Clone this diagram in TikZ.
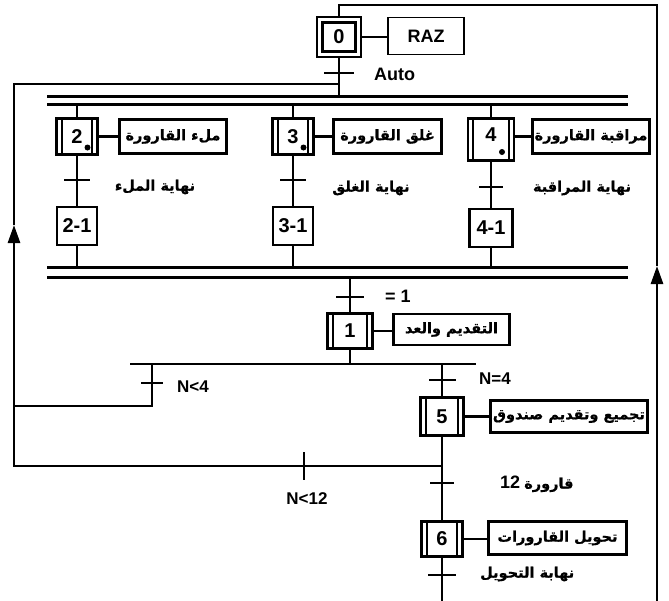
\documentclass[tikz,border=0pt]{standalone}
\usepackage{fontspec}
\setmainfont{Liberation Sans}
\newfontfamily\arabicfont[Script=Arabic, BoldFeatures={FakeBold=0.6}]{DejaVu Sans}
\TeXXeTstate=1
\usetikzlibrary{arrows.meta}
\newcommand\artxt[1]{{\arabicfont\bfseries\beginR #1\endR}}
\begin{document}
\begin{tikzpicture}[x=1pt,y=-1pt,
  conn/.style={line width=2.7pt},
  bar/.style={line width=3pt},
  lat/.style={font=\bfseries\fontsize{18}{18}\selectfont, inner sep=0pt},
  arl/.style={font=\fontsize{14.5}{14.5}\selectfont, inner sep=0pt},
  initstep/.style={draw, line width=2.7pt, minimum width=44pt, minimum height=40pt, inner sep=0pt,
    font=\bfseries\fontsize{20}{20}\selectfont,
    path picture={\draw[line width=2.7pt] ([shift={(5.8pt,5.8pt)}]path picture bounding box.south west) rectangle ([shift={(-5.8pt,-5.8pt)}]path picture bounding box.north east);}},
  macrostep/.style={draw, line width=2.7pt, inner sep=0pt,
    font=\bfseries\fontsize{20}{20}\selectfont,
    path picture={\draw[line width=2pt] ([xshift=5.2pt]path picture bounding box.south west) -- ([xshift=5.2pt]path picture bounding box.north west);
      \draw[line width=2pt] ([xshift=-5.2pt]path picture bounding box.south east) -- ([xshift=-5.2pt]path picture bounding box.north east);}},
  plainstep/.style={draw, line width=2.7pt, inner sep=0pt, minimum width=40pt, minimum height=38pt,
    font=\bfseries\fontsize{20}{20}\selectfont},
  actbox/.style={draw, line width=2.7pt, inner sep=0pt, minimum height=34pt, font=\fontsize{14.5}{14.5}\selectfont},
  trans/.style={fill, inner sep=0pt, minimum height=2.8pt},
  vtrans/.style={fill, inner sep=0pt, minimum width=2.8pt, minimum height=28pt},
  tipup/.style={-{Triangle[length=18pt,width=12pt]}}
]
\useasboundingbox (0,0) rectangle (669,600);

% ---- steps ----
\node[initstep] (s0) at (339,37) {0};
\node[draw, line width=1.2pt, minimum width=76pt, minimum height=37pt, lat] (raz) at (426,36) {RAZ};

\node[macrostep, minimum width=41pt, minimum height=36pt] (s2) at (77,136.5) {2};
\node[macrostep, minimum width=41pt, minimum height=36pt] (s3) at (293,136.5) {3};
\node[macrostep, minimum width=46pt, minimum height=42pt, text depth=9pt] (s4) at (491,139.5) {4};
\fill ([shift={(10.5pt,-11pt)}]s2.center) circle (3pt);
\fill ([shift={(10.5pt,-11pt)}]s3.center) circle (3pt);
\fill ([shift={(11pt,-12.5pt)}]s4.center) circle (3pt);

\node[actbox, minimum width=107pt] (a2) at (173,136.5) {\artxt{ملء القارورة}};
\node[actbox, minimum width=108pt] (a3) at (387.5,136.5) {\artxt{غلق القارورة}};
\node[actbox, minimum width=117pt] (a4) at (591,136.5) {\artxt{مراقبة القارورة}};

\node[plainstep] (s21) at (77,226) {2-1};
\node[plainstep] (s31) at (293,226) {3-1};
\node[plainstep, minimum width=43pt] (s41) at (491,228) {4-1};

\node[macrostep, minimum width=45pt, minimum height=35pt] (s1) at (350,331) {1};
\node[actbox, minimum width=116pt, minimum height=31pt] (a1) at (451.5,329.5) {\artxt{التقديم والعد}};

\node[macrostep, minimum width=43pt, minimum height=38pt] (s5) at (442,416.5) {5};
\node[actbox, minimum width=157pt, minimum height=32pt] (a5) at (569,416.5) {\artxt{تجميع وتقديم صندوق}};

\node[macrostep, minimum width=41pt, minimum height=35pt] (s6) at (442,539) {6};
\node[actbox, minimum width=138pt, minimum height=33pt] (a6) at (557.5,538) {\artxt{تحويل القارورات}};

% ---- action links ----
\draw[conn] (s0.east) -- (s0.east -| raz.west);
\draw[conn] (s2.east) -- (s2.east -| a2.west);
\draw[conn] (s3.east) -- (s3.east -| a3.west);
\draw[conn] (s4.east |- a4.west) -- (a4.west);
\draw[conn] (s1.east) -- (s1.east -| a1.west);
\draw[conn] (s5.east) -- (s5.east -| a5.west);
\draw[conn] (s6.east) -- (s6.east -| a6.west);

% ---- transitions ----
\node[trans, minimum width=30pt] (t0) at (339,73) {};
\node[trans, minimum width=26pt] (t2) at (77,180) {};
\node[trans, minimum width=26pt] (t3) at (293,180) {};
\node[trans, minimum width=24pt] (t4) at (491,187) {};
\node[trans, minimum width=28pt] (t1) at (350,297) {};
\node[trans, minimum width=22pt] (tn4) at (152,383) {};
\node[trans, minimum width=27pt] (te4) at (442,380) {};
\node[vtrans] (tn12) at (304,466) {};
\node[trans, minimum width=24pt] (t12) at (442,483) {};
\node[trans, minimum width=28pt] (t6) at (442,575) {};

% ---- labels ----
\node[lat, anchor=west] (lauto) at (374,74) {Auto};
\node[lat, anchor=west] (leq) at (385,296) {= 1};
\node[lat, anchor=west, font=\bfseries\fontsize{17}{17}\selectfont] (ln4) at (177,387) {N<4};
\node[lat, anchor=west, font=\bfseries\fontsize{17}{17}\selectfont] (le4) at (479,379) {N=4};
\node[lat, font=\bfseries\fontsize{17}{17}\selectfont] (ln12) at (307,499) {N<12};
\node[arl, anchor=west] (l12) at (500,484) {{\bfseries\fontsize{18}{18}\selectfont 12} \artxt{قارورة}};
\node[arl, anchor=west] (l6) at (480,574) {\artxt{نهابة التحويل}};
\node[arl] (l2) at (155,187) {\artxt{نهاية الملء}};
\node[arl] (l3) at (371,188) {\artxt{نهاية الغلق}};
\node[arl] (l4) at (582,188) {\artxt{نهاية المراقبة}};

% ---- double bars ----
\coordinate (b1l) at (47,96);  \coordinate (b1r) at (628,96);
\coordinate (b2l) at (47,104); \coordinate (b2r) at (628,104);
\coordinate (b3l) at (47,267); \coordinate (b3r) at (628,267);
\coordinate (b4l) at (47,277); \coordinate (b4r) at (628,277);
\draw[bar] (b1l) -- (b1r);
\draw[bar] (b2l) -- (b2r);
\draw[bar] (b3l) -- (b3r);
\draw[bar] (b4l) -- (b4r);

% ---- main flow ----
\draw[conn] (s0.south) -- (t0.center) -- (s0 |- b1l);
\foreach \a/\t/\b in {s2/t2/s21, s3/t3/s31, s4/t4/s41}{
  \draw[conn] (\a |- b2l) -- (\a.north);
  \draw[conn] (\a.south) -- (\t.center) -- (\b.north);
  \draw[conn] (\b.south) -- (\b |- b3l);
}
\draw[conn] (s1 |- b4l) -- (t1.center) -- (s1.north);

% OR divergence
\coordinate (orl) at (130,364); \coordinate (orr) at (476,364);
\draw[conn] (orl) -- (orr);
\draw[conn] (s1.south) -- (s1 |- orl);
\draw[conn] (tn4 |- orl) -- (tn4.center) -- (152,406) coordinate (n4c) -- (14,406);
\draw[conn] (s5 |- orl) -- (te4.center) -- (s5.north);
\coordinate (j12) at (442,466);
\draw[conn] (s5.south) -- (j12) -- (t12.center) -- (s6.north);

% left loop
\coordinate (la) at (14,225);
\draw[conn, tipup] (j12) -- (tn12.center) -- (14,466) -- (la);
\draw[conn] (la) -- (14,84) -- (t0 |- 0,84);

% right loop
\coordinate (rb) at (657,603);
\coordinate (ra) at (657,266);
\draw[conn, tipup] (s6.south) -- (t6.center) -- (s6 |- rb) -- (rb) -- (ra);
\draw[conn] (ra) -- (657,5) -- (s0 |- 0,5) -- (s0.north);
\end{tikzpicture}
\end{document}
